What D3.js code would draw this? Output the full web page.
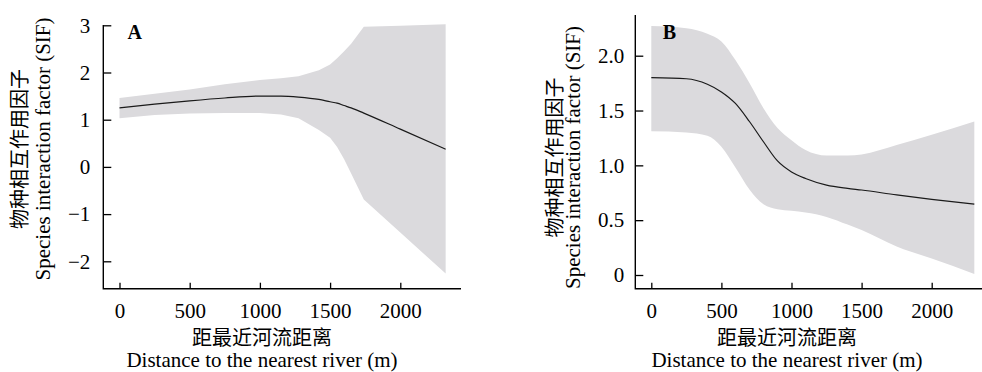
<!DOCTYPE html>
<html>
<head>
<meta charset="utf-8">
<script src="https://cdn.jsdelivr.net/npm/d3@7"></script>
<style>
  body { margin: 0; background: #fff; }
  svg { display: block; }
  .tick text { font-family: "Liberation Serif", "Times New Roman", serif; font-size: 21px; fill: #000; }
  .en { font-family: "Liberation Serif", "Times New Roman", serif; font-size: 21px; fill: #000; }
  .zh { font-family: "Noto Sans CJK SC", sans-serif; font-size: 20px; fill: #000; }
</style>
</head>
<body>
<div id="chart"></div>
<script>
// panel A: distance to nearest river vs SIF
const distA  = [0, 250, 500, 750, 1000, 1150, 1275, 1420, 1500, 1550, 1600, 1650, 1740, 2000, 2323];
const fitA   = [1.25, 1.33, 1.40, 1.46, 1.50, 1.50, 1.48, 1.43, 1.38, 1.35, 1.30, 1.25, 1.14, 0.80, 0.375];
const upperA = [1.46, 1.55, 1.64, 1.75, 1.84, 1.88, 1.92, 2.05, 2.17, 2.30, 2.45, 2.61, 2.97, 2.99, 3.02];
const lowerA = [1.03, 1.10, 1.13, 1.14, 1.14, 1.11, 1.03, 0.78, 0.62, 0.42, 0.16, -0.14, -0.69, -1.39, -2.26];

// panel B
const distB  = [0, 250, 400, 500, 600, 700, 800, 900, 1000, 1100, 1250, 1400, 1500, 1750, 2000, 2304];
const fitB   = [1.80, 1.79, 1.74, 1.67, 1.565, 1.40, 1.215, 1.04, 0.94, 0.88, 0.82, 0.79, 0.775, 0.73, 0.69, 0.647];
const upperB = [2.27, 2.25, 2.20, 2.13, 1.96, 1.75, 1.52, 1.34, 1.23, 1.14, 1.09, 1.09, 1.10, 1.185, 1.28, 1.40];
const lowerB = [1.31, 1.30, 1.27, 1.17, 0.98, 0.78, 0.645, 0.60, 0.586, 0.57, 0.53, 0.46, 0.41, 0.26, 0.15, 0.01];

const xTicks = [0, 500, 1000, 1500, 2000];
const yTicksA = [-2, -1, 0, 1, 2, 3];
const yTicksB = [0, 0.5, 1.0, 1.5, 2.0];

const yTitleZh = "物种相互作用因子";
const yTitleEn = "Species interaction factor (SIF)";
const xTitleZh = "距最近河流距离";
const xTitleEn = "Distance to the nearest river (m)";

const svg = d3.select("#chart").append("svg")
  .attr("width", 982)
  .attr("height", 372);

const drawPanel = (p) => {
  const g = svg.append("g");
  const x = d3.scaleLinear().domain([0, 2000]).range(p.xRange);
  const y = d3.scaleLinear().domain(p.yDomain).range(p.yRange);

  const rows = p.dist.map((d, i) => ({ d, fit: p.fit[i], lo: p.lower[i], hi: p.upper[i] }));

  // confidence band
  g.append("path")
    .datum(rows)
    .attr("fill", "#dbdadd")
    .attr("d", d3.area()
      .curve(p.bandCurve)
      .x((r) => x(r.d))
      .y0((r) => y(r.lo))
      .y1((r) => y(r.hi)));

  // fitted line
  g.append("path")
    .datum(rows)
    .attr("fill", "none")
    .attr("stroke", "#1a1a1a")
    .attr("stroke-width", 1.2)
    .attr("d", d3.line()
      .curve(d3.curveMonotoneX)
      .x((r) => x(r.d))
      .y((r) => y(r.fit)));

  // axes, ticks pointing inwards
  const xAxis = g.append("g")
    .attr("transform", `translate(0,${p.frame.bottom})`)
    .call(d3.axisBottom(x).tickValues(xTicks).tickSize(-6).tickPadding(14.4).tickFormat(d3.format("d")));
  const yAxis = g.append("g")
    .attr("transform", `translate(${p.frame.left},0)`)
    .call(d3.axisLeft(y).tickValues(p.yTicks).tickSize(-8).tickPadding(p.yPad).tickFormat(p.yFormat));
  [xAxis, yAxis].forEach((a) => {
    a.attr("font-family", "Liberation Serif, Times New Roman, serif").attr("font-size", 21);
    a.select(".domain").remove();
    a.selectAll(".tick line").attr("stroke", "#000").attr("stroke-width", 1.3);
  });

  g.append("path")
    .attr("fill", "none")
    .attr("stroke", "#000")
    .attr("stroke-width", 1.4)
    .attr("d", `M${p.frame.left},${p.frame.top}V${p.frame.bottom}H${p.frame.right}`);

  // panel letter
  g.append("text")
    .attr("class", "en")
    .attr("x", p.letterX)
    .attr("y", 39)
    .style("font-weight", "bold")
    .style("font-size", "20px")
    .text(p.letter);

  // y title (two lines)
  g.append("text")
    .attr("class", "zh")
    .attr("transform", `translate(${p.yZhX},${p.yTitleY}) rotate(-90)`)
    .attr("text-anchor", "middle")
    .attr("dominant-baseline", "central")
    .text(yTitleZh);
  g.append("text")
    .attr("class", "en")
    .attr("transform", `translate(${p.yEnX},${p.yTitleY}) rotate(-90)`)
    .attr("text-anchor", "middle")
    .text(yTitleEn);

  // x title (two lines)
  g.append("text")
    .attr("class", "zh")
    .attr("x", p.xTitleX)
    .attr("y", 336)
    .attr("text-anchor", "middle")
    .attr("dominant-baseline", "central")
    .text(xTitleZh);
  g.append("text")
    .attr("class", "en")
    .attr("x", p.xTitleX)
    .attr("y", 367)
    .attr("text-anchor", "middle")
    .text(xTitleEn);
};

drawPanel({
  dist: distA, fit: fitA, upper: upperA, lower: lowerA,
  bandCurve: d3.curveLinear,
  xRange: [119.5, 400.3],
  yDomain: [-2, 3], yRange: [261.3, 25.3],
  yTicks: yTicksA, yFormat: d3.format("d"), yPad: 13,
  frame: { left: 103.3, top: 25, bottom: 288.7, right: 461 },
  letter: "A", letterX: 127.5,
  yZhX: 18, yEnX: 50, yTitleY: 149,
  xTitleX: 262,
});

drawPanel({
  dist: distB, fit: fitB, upper: upperB, lower: lowerB,
  bandCurve: d3.curveMonotoneX,
  xRange: [651.3, 931.7],
  yDomain: [0, 2], yRange: [275, 55.7],
  yTicks: yTicksB, yFormat: (d) => (d === 0 ? "0" : d3.format(".1f")(d)), yPad: 11,
  frame: { left: 635.3, top: 15, bottom: 288.7, right: 982 },
  letter: "B", letterX: 662.7,
  yZhX: 553.5, yEnX: 580, yTitleY: 157.5,
  xTitleX: 787,
});
</script>
</body>
</html>
